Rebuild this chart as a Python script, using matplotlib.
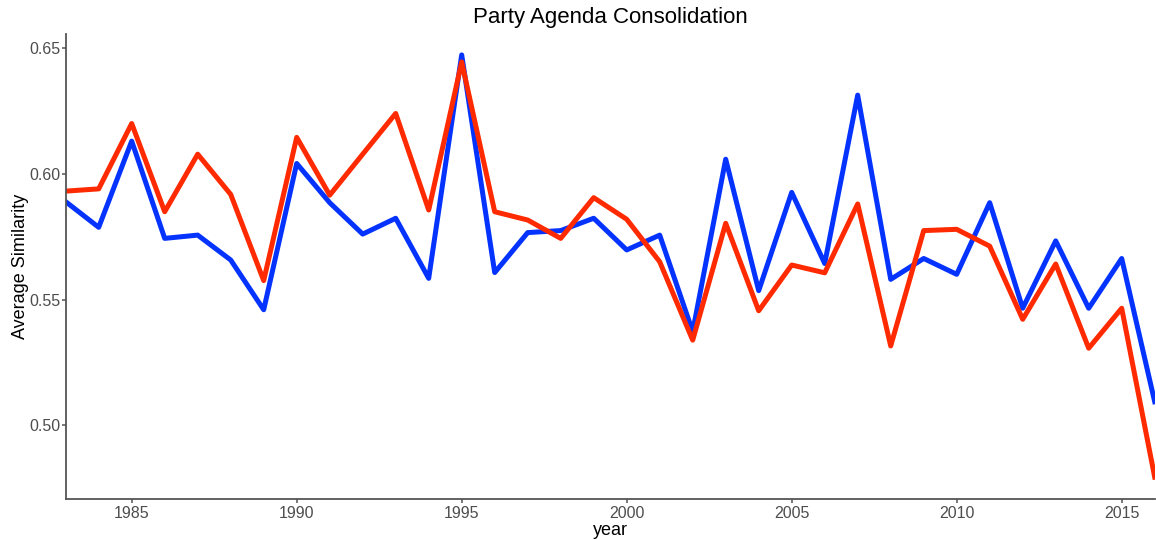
import matplotlib.pyplot as plt

years = list(range(1983, 2017))
blue = [0.5890, 0.5788, 0.6131, 0.5744, 0.5757, 0.5658, 0.5460, 0.6042, 0.5886, 0.5761,
        0.5824, 0.5585, 0.6474, 0.5608, 0.5767, 0.5775, 0.5824, 0.5698, 0.5757, 0.5373,
        0.6059, 0.5536, 0.5927, 0.5644, 0.6314, 0.5581, 0.5664, 0.5601, 0.5886, 0.5466,
        0.5734, 0.5466, 0.5664, 0.5094]
red = [0.5932, 0.5941, 0.6201, 0.5850, 0.6079, 0.5919, 0.5576, 0.6146, 0.5916, 0.6079,
       0.6241, 0.5857, 0.6446, 0.5850, 0.5817, 0.5744, 0.5906, 0.5820, 0.5651, 0.5339,
       0.5804, 0.5456, 0.5638, 0.5607, 0.5881, 0.5316, 0.5775, 0.5780, 0.5713, 0.5422,
       0.5642, 0.5307, 0.5466, 0.4794]

plt.rcParams['font.family'] = ['Liberation Sans', 'DejaVu Sans']

fig = plt.figure(figsize=(11.56, 5.40), dpi=100)
ax = fig.add_axes([65.7 / 1156, 1 - 499 / 540, (1154.7 - 65.7) / 1156, (499 - 34.3) / 540])

ax.plot(years, blue, color='#0433ff', lw=3.6, solid_joinstyle='round')
ax.plot(years, red, color='#ff2a00', lw=3.6, solid_joinstyle='round')

ax.set_xlim(1983, 2016)
ax.set_ylim(0.4707, 0.6556)
ax.set_xticks([1985, 1990, 1995, 2000, 2005, 2010, 2015])
ax.set_yticks([0.50, 0.55, 0.60, 0.65])
ax.set_yticklabels(['0.50', '0.55', '0.60', '0.65'])

for s in ['top', 'right']:
    ax.spines[s].set_visible(False)
for s in ['left', 'bottom']:
    ax.spines[s].set_color('#555555')
    ax.spines[s].set_linewidth(1.3)
ax.tick_params(colors='#555555', labelcolor='#4d4d4d', labelsize=11.5, length=2.6, width=1.1)
ax.tick_params(axis='x', pad=2.5)
ax.tick_params(axis='y', pad=1.5)

ax.set_title('Party Agenda Consolidation', fontsize=16, pad=8)
ax.set_xlabel('year', fontsize=13, labelpad=1)
ax.set_ylabel('Average Similarity', fontsize=13, labelpad=0)

fig.savefig('out.png', dpi=100)
